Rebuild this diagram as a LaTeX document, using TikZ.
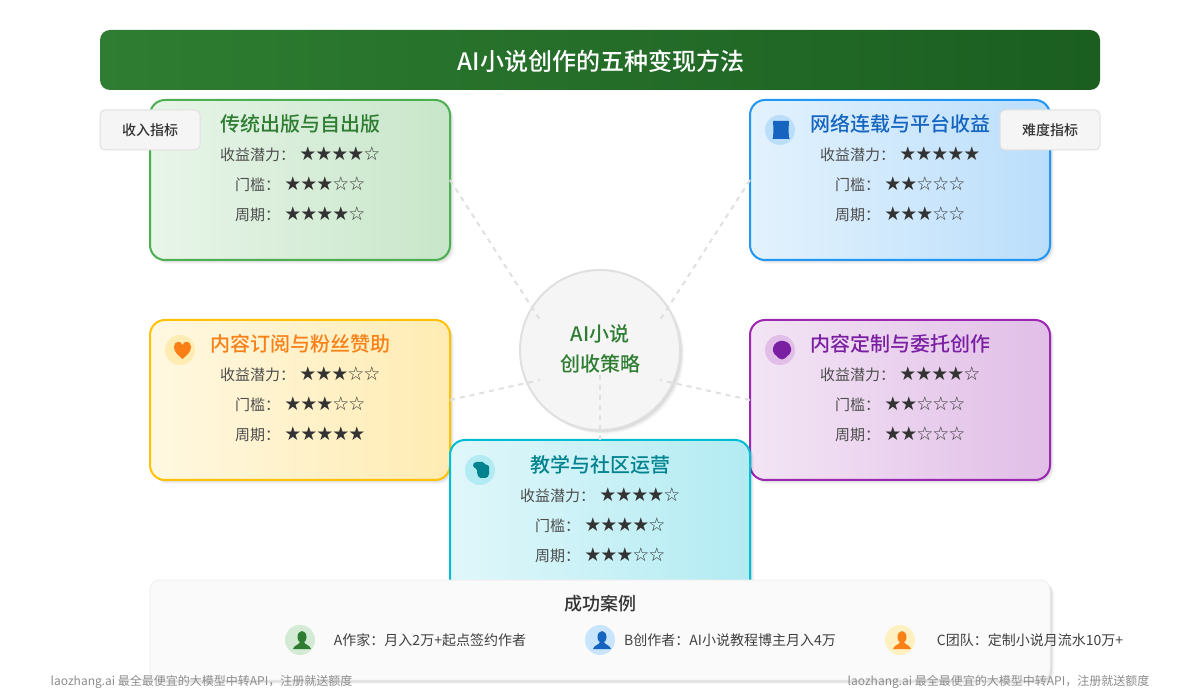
\documentclass[tikz,border=0pt]{standalone}
\usepackage{fontspec}
\setmainfont[BoldFont={Noto Sans CJK SC Medium}]{Noto Sans CJK SC}
\newfontfamily\starfont{DejaVu Sans}
\usetikzlibrary{shadows, positioning}

\definecolor{headL}{HTML}{2E7D32}
\definecolor{headR}{HTML}{1B5E20}
\definecolor{lineG}{HTML}{E0E0E0}
\definecolor{paleG}{HTML}{F5F5F5}
\definecolor{greenA}{HTML}{E8F5E9}
\definecolor{greenB}{HTML}{C8E6C9}
\definecolor{greenE}{HTML}{4CAF50}
\definecolor{greenT}{HTML}{2E7D32}
\definecolor{blueA}{HTML}{E3F2FD}
\definecolor{blueB}{HTML}{BBDEFB}
\definecolor{blueE}{HTML}{2196F3}
\definecolor{blueT}{HTML}{1565C0}
\definecolor{yellowA}{HTML}{FFF8E1}
\definecolor{yellowB}{HTML}{FFECB3}
\definecolor{yellowE}{HTML}{FFC107}
\definecolor{yellowT}{HTML}{F97F17}
\definecolor{purpleA}{HTML}{F3E5F5}
\definecolor{purpleB}{HTML}{E1BEE7}
\definecolor{purpleE}{HTML}{9C27B0}
\definecolor{purpleT}{HTML}{7B1FA2}
\definecolor{tealA}{HTML}{E0F7FA}
\definecolor{tealB}{HTML}{B2EBF2}
\definecolor{tealE}{HTML}{00BCD4}
\definecolor{tealT}{HTML}{00838F}

\newcommand{\wcolon}{\char"FF1A\relax}
\newcommand{\wcomma}{\char"FF0C\relax}
\newcommand{\ratingstars}[1]{{\starfont\fontsize{19}{20}\selectfont\color[HTML]{333333}%
  \foreach \n in {1,...,5}{\makebox[16pt]{\ifnum\n>#1 ☆\else ★\fi}}}}
\newcommand{\ratingrow}[2]{#1\wcolon\hspace{5pt}\ratingstars{#2}}
\newcommand{\personicon}[2]{%
  \fill[#2, shift={(#1.center)}] (2,-3) ellipse [x radius=4.5, y radius=6];
  \fill[#2, shift={(#1.center)}] (-7,9) .. controls (-6,5) and (-1,5) .. (0,2) -- (4,2) .. controls (5,5) and (10,5) .. (11,9) -- cycle;}

\tikzset{
  softshadow/.style={
    general shadow={fill=black, opacity=.05, shadow xshift=1pt, shadow yshift=-1pt},
    general shadow={fill=black, opacity=.05, shadow xshift=2pt, shadow yshift=-2pt},
    general shadow={fill=black, opacity=.04, shadow xshift=3pt, shadow yshift=-3pt},
    general shadow={fill=black, opacity=.03, shadow xshift=4pt, shadow yshift=-4pt}},
  card/.style={rectangle, rounded corners=15pt, line width=2pt, minimum width=300pt, minimum height=160pt, inner sep=0pt, outer sep=0pt, softshadow},
  cardtitle/.style={font=\fontsize{20}{24}\selectfont\bfseries, text height=15pt, text depth=3pt, inner sep=0pt},
  raterow/.style={font=\fontsize{15}{18}\selectfont, text=black!70, text height=13pt, text depth=3pt, inner sep=0pt, node distance=30pt},
  badge/.style={rectangle, rounded corners=5pt, draw=lineG, fill=paleG, line width=1pt, minimum width=100pt, minimum height=40pt, inner sep=0pt, font=\fontsize{14}{16}\selectfont\bfseries, text=black!80},
  link/.style={draw=lineG, line width=2pt, dash pattern=on 5pt off 5pt},
  iconbg/.style={circle, minimum size=30pt, inner sep=0pt, outer sep=0pt},
  caseline/.style={font=\fontsize{14}{16}\selectfont, text=black!75, inner sep=0pt},
  footline/.style={font=\fontsize{12}{14}\selectfont, text=black!45, inner sep=0pt}
}

\begin{document}
\begin{tikzpicture}[x=1pt, y=-1pt]
        \useasboundingbox[fill=white] (0,0) rectangle (1200,700);

        \node[rectangle, rounded corners=10pt, left color=headL, right color=headR, minimum width=1000pt, minimum height=60pt, inner sep=0pt] (head) at (600,60) {};
        \node[inner sep=0pt, text=white, font=\fontsize{24}{28}\selectfont\bfseries] (headName) at (601,61) {AI小说创作的五种变现方法};

        % cards
        \node[card, draw=greenE, left color=greenA, right color=greenB] (green) at (300,180) {};
        \node[card, draw=blueE, left color=blueA, right color=blueB] (blue) at (900,180) {};
        \node[card, draw=yellowE, left color=yellowA, right color=yellowB] (yellow) at (300,400) {};
        \node[card, draw=purpleE, left color=purpleA, right color=purpleB] (purple) at (900,400) {};
        \node[card, draw=tealE, left color=tealA, right color=tealB] (teal) at (600,520) {};

        % hub
        \node[circle, draw=lineG, fill=paleG, line width=2pt, minimum size=160pt, inner sep=0pt, outer sep=0pt, softshadow] (hub) at (600,350) {};
        \node[align=center, inner sep=0pt, text=greenT, font=\fontsize{20}{30}\selectfont\bfseries] (hubName) at (600,349) {AI小说\\创收策略};
        \coordinate (hubNW) at (540,320);
        \coordinate (hubNE) at (660,320);
        \coordinate (hubW) at (540,380);
        \coordinate (hubE) at (660,380);
        \coordinate (hubS) at (600,375);

        % dashed links
        \draw[link] (green.east) -- (hubNW);
        \draw[link] (blue.west) -- (hubNE);
        \draw[link] (yellow.east) -- (hubW);
        \draw[link] (purple.west) -- (hubE);
        \draw[link] (hubS) -- (teal.north);

        % green card
        \node[cardtitle, text=greenT] (greenName) at (300,126) {传统出版与自出版};
        \node[raterow, below of=greenName] (greenGain) {\ratingrow{收益潜力}{4}};
        \node[raterow, below of=greenGain] (greenBar) {\ratingrow{门槛}{3}};
        \node[raterow, below of=greenBar] (greenTime) {\ratingrow{周期}{4}};

        % blue card
        \node[iconbg, fill=blueB] (blueIcon) at (780,130) {};
        \fill[blueT, shift={(blueIcon.center)}] (-7,-9) -- (9,-9) -- (8.5,0) -- (9,8) -- (10,9) -- (-8,9) -- (-7,8) -- (-6.5,0) -- cycle;
        \node[cardtitle, text=blueT] (blueName) at (900,126) {网络连载与平台收益};
        \node[raterow, below of=blueName] (blueGain) {\ratingrow{收益潜力}{5}};
        \node[raterow, below of=blueGain] (blueBar) {\ratingrow{门槛}{2}};
        \node[raterow, below of=blueBar] (blueTime) {\ratingrow{周期}{3}};

        % yellow card
        \node[iconbg, fill=yellowB] (yellowIcon) at (180,350) {};
        \fill[yellowT, shift={(yellowIcon.center)}] (2.5,9) .. controls (-2,5) and (-6,2) .. (-6,-3) .. controls (-6,-9) and (1,-10) .. (2.5,-5) .. controls (4,-10) and (11,-9) .. (11,-3) .. controls (11,2) and (7,5) .. (2.5,9) -- cycle;
        \node[cardtitle, text=yellowT] (yellowName) at (300,346) {内容订阅与粉丝赞助};
        \node[raterow, below of=yellowName] (yellowGain) {\ratingrow{收益潜力}{3}};
        \node[raterow, below of=yellowGain] (yellowBar) {\ratingrow{门槛}{3}};
        \node[raterow, below of=yellowBar] (yellowTime) {\ratingrow{周期}{5}};

        % purple card
        \node[iconbg, fill=purpleB] (purpleIcon) at (780,350) {};
        \fill[purpleT, shift={(purpleIcon.center)}, rounded corners=2pt] (-2,-9) -- (6,-9) -- (11,-4) -- (11,3) -- (6,7) -- (4,9.5) -- (0,9.5) -- (-2,7) -- (-7,3) -- (-7,-4) -- cycle;
        \node[cardtitle, text=purpleT] (purpleName) at (900,346) {内容定制与委托创作};
        \node[raterow, below of=purpleName] (purpleGain) {\ratingrow{收益潜力}{4}};
        \node[raterow, below of=purpleGain] (purpleBar) {\ratingrow{门槛}{2}};
        \node[raterow, below of=purpleBar] (purpleTime) {\ratingrow{周期}{2}};

        % teal card
        \node[iconbg, fill=tealB] (tealIcon) at (480,470) {};
        \fill[tealT, shift={(tealIcon.center)}, rounded corners=1.5pt] (-5,-8) -- (4,-8) -- (5,-5) -- (9,-5) -- (9,5) -- (7,8) -- (-1,8) -- (-3,3) -- (-3,-1) -- (-7,-3) -- (-7,-6) -- cycle;
        \node[cardtitle, text=tealT] (tealName) at (600,466) {教学与社区运营};
        \node[raterow, below of=tealName] (tealGain) {\ratingrow{收益潜力}{4}};
        \node[raterow, below of=tealGain] (tealBar) {\ratingrow{门槛}{4}};
        \node[raterow, below of=tealBar] (tealTime) {\ratingrow{周期}{3}};

        % metric badges
        \node[badge] (gainBadge) at (150,130) {收入指标};
        \node[badge] (hardBadge) at (1050,130) {难度指标};

        % success cases
        \node[rectangle, rounded corners=10pt, draw=black!6, fill=black!2, line width=1pt, minimum width=900pt, minimum height=100pt, inner sep=0pt, softshadow] (cases) at (600,630) {};
        \node[font=\fontsize{18}{20}\selectfont\bfseries, text=black!80, inner sep=0pt] (casesName) at (600,604) {成功案例};

        \node[iconbg, fill=greenB!80!white] (caseA) at (300,640) {};
        \personicon{caseA}{greenT}
        \node[caseline] (caseAText) at (430,640) {A作家\wcolon 月入2万+起点签约作者};

        \node[iconbg, fill=blueB!80!white] (caseB) at (600,640) {};
        \personicon{caseB}{blueT}
        \node[caseline] (caseBText) at (730,640) {B创作者\wcolon AI小说教程博主月入4万};

        \node[iconbg, fill=yellowB!80!white] (caseC) at (900,640) {};
        \personicon{caseC}{yellowT}
        \node[caseline] (caseCText) at (1030,640) {C团队\wcolon 定制小说月流水10万+};

        % footer
        \node[footline] (footL) at (201.5,682) {laozhang.ai 最全最便宜的大模型中转API\wcomma 注册就送额度};
        \node[footline] (footR) at (998.5,682) {laozhang.ai 最全最便宜的大模型中转API\wcomma 注册就送额度};

\end{tikzpicture}
\end{document}
